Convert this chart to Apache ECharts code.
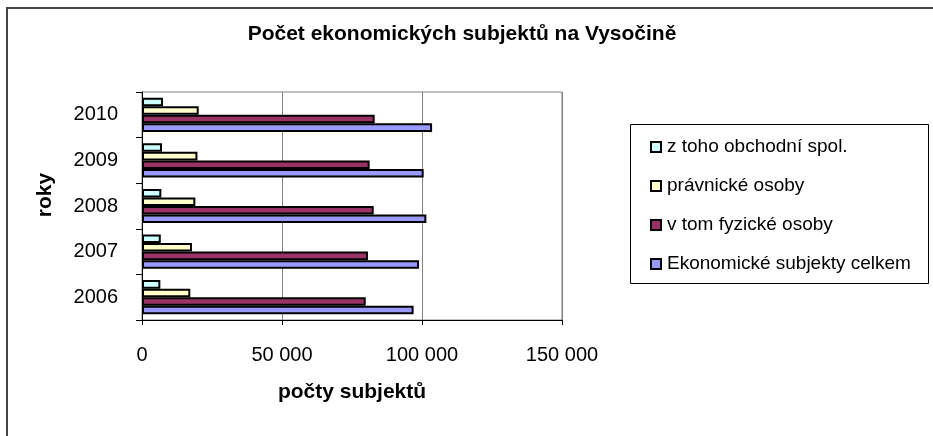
<!DOCTYPE html>
<html>
<head>
<meta charset="utf-8">
<script src="https://cdn.jsdelivr.net/npm/echarts@6/dist/echarts.min.js"></script>
<style>
  html, body { margin: 0; padding: 0; background: #fff; }
  #chart { width: 933px; height: 436px; }
</style>
</head>
<body>
<div id="chart"></div>
<script>
// data
const roky = ['2006', '2007', '2008', '2009', '2010']
const obchodni = [6550, 6700, 6900, 7150, 7500]
const pravnicke = [17250, 17850, 19050, 19800, 20250]
const fyzicke = [79900, 80700, 82750, 81300, 83100]
const celkem = [97000, 98950, 101550, 100600, 103600]
const xTicks = [0, 50000, 100000, 150000]

const font = 'Liberation Sans, Arial, sans-serif'

function mezery(v) {
    return String(v).replace(/\B(?=(\d{3})+(?!\d))/g, ' ')
}

function serie(name, data, color) {
    return {
        name: name,
        type: 'bar',
        data: data,
        barGap: '0%',
        barCategoryGap: '25%',
        itemStyle: { color: color, borderColor: '#000', borderWidth: 2 }
    }
}

let myChart = echarts.init(document.getElementById('chart'), null, { renderer: 'canvas' })

myChart.setOption({
    animation: false,
    backgroundColor: '#fff',
    textStyle: { fontFamily: font },
    title: {
        text: 'Počet ekonomických subjektů na Vysočině',
        left: 462,
        textAlign: 'center',
        top: 24,
        padding: 0,
        textStyle: { fontSize: 21, fontWeight: 'bold', color: '#000', fontFamily: font }
    },
    graphic: [
        // vnejsi ramecek
        { type: 'rect', shape: { x: 7, y: 8, width: 2000, height: 2000 },
          style: { fill: 'none', stroke: '#444', lineWidth: 2 }, silent: true },
        // ramecek legendy
        { type: 'rect', shape: { x: 630.5, y: 124.5, width: 298, height: 159 },
          style: { fill: 'none', stroke: '#000', lineWidth: 1 }, silent: true }
    ],
    legend: {
        orient: 'vertical',
        left: 650,
        top: 137,
        padding: 0,
        itemWidth: 10,
        itemHeight: 10,
        itemGap: 19,
        icon: 'rect',
        data: ['z toho obchodní spol.', 'právnické osoby', 'v tom fyzické osoby', 'Ekonomické subjekty celkem'],
        itemStyle: { borderColor: '#000', borderWidth: 2 },
        textStyle: { fontSize: 19, lineHeight: 20, color: '#000', fontFamily: font, padding: [0, 0, 0, 1] }
    },
    grid: {
        left: 142,
        right: 371,
        top: 92,
        bottom: 116,
        show: true,
        borderColor: '#808080',
        borderWidth: 1,
        outerBoundsMode: 'none'
    },
    xAxis: {
        type: 'value',
        min: xTicks[0],
        max: xTicks[xTicks.length - 1],
        interval: 50000,
        name: 'počty subjektů',
        nameLocation: 'middle',
        nameGap: 62,
        nameTextStyle: { fontSize: 21, fontWeight: 'bold', color: '#000', fontFamily: font },
        axisLine: { show: true, lineStyle: { color: '#000', width: 1 } },
        axisTick: { show: true, length: 5, lineStyle: { color: '#000' } },
        axisLabel: { fontSize: 20, color: '#000', margin: 25, formatter: mezery },
        splitLine: { show: true, lineStyle: { color: '#808080', width: 1 } }
    },
    yAxis: {
        type: 'category',
        data: roky,
        name: 'roky',
        nameLocation: 'middle',
        nameGap: 86,
        nameTextStyle: { fontSize: 21, fontWeight: 'bold', color: '#000', fontFamily: font, padding: [0, 0, 0, 22] },
        axisLine: { show: true, lineStyle: { color: '#000', width: 1 } },
        axisTick: { show: true, length: 6, lineStyle: { color: '#000' } },
        axisLabel: { fontSize: 20, color: '#000', margin: 24 },
        splitLine: { show: false }
    },
    series: [
        serie('z toho obchodní spol.', obchodni, '#CCFFFF'),
        serie('právnické osoby', pravnicke, '#FFFFCC'),
        serie('v tom fyzické osoby', fyzicke, '#993366'),
        serie('Ekonomické subjekty celkem', celkem, '#9999FF')
    ]
})
</script>
</body>
</html>
